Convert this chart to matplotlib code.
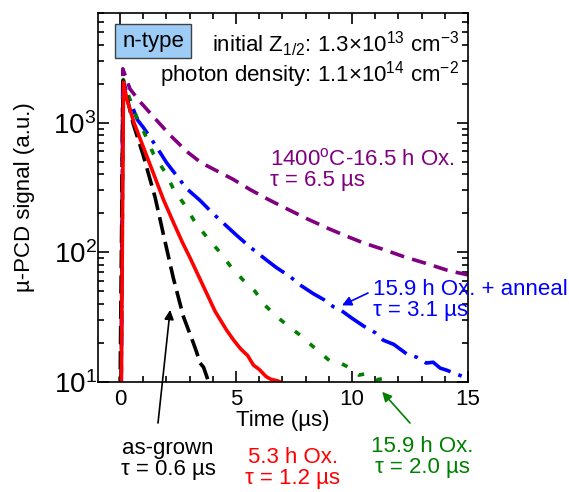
import matplotlib
matplotlib.use("Agg")
import matplotlib.pyplot as plt
from matplotlib.ticker import LogLocator, MultipleLocator, NullFormatter

# ── Style ─────────────────────────────────────────────────
plt.rcParams['font.family'] = ['Liberation Sans', 'DejaVu Sans']
plt.rcParams['mathtext.fontset'] = 'custom'
plt.rcParams['mathtext.rm'] = 'Liberation Sans'
plt.rcParams['mathtext.it'] = 'Liberation Sans'
plt.rcParams['mathtext.default'] = 'regular'

# ── Data ──────────────────────────────────────────────────
t_asgrown = [0.0, 0.13, 0.57, 1.0, 1.51, 1.86, 2.3, 2.73, 3.16, 3.3, 3.45, 3.6, 3.74, 3.9]
s_asgrown = [8, 2100, 975, 560, 266, 140, 63, 32, 20, 17, 14, 13, 11, 9]

t_53h = [0.05, 0.15, 0.3, 0.6, 1.0, 1.5, 1.87, 2.3, 2.7, 3.0, 3.45, 4.1, 4.6, 4.9, 5.2,
         5.5, 5.75, 6.0, 6.3, 6.5, 6.8, 7.0, 7.2]
s_53h = [8, 2050, 1500, 1000, 650, 380, 255, 170, 118, 92, 62, 35, 25, 21, 18,
         16, 13.5, 12.5, 11, 10.5, 10.2, 9.8, 9]

t_159h = [0.05, 0.14, 0.43, 0.72, 1.0, 1.44, 1.94, 2.3, 2.8, 3.23, 3.8, 4.31, 4.81, 5.31,
          5.82, 6.25, 6.75, 7.25, 7.76, 8.33, 9.05, 9.5, 9.77, 10.3, 10.6, 11.06, 11.3, 11.6]
s_159h = [8, 2150, 1500, 1100, 870, 573, 415, 309, 230, 171, 127, 100, 76, 61,
          50, 39, 32, 27, 23, 18.7, 14.5, 14, 13.2, 11.3, 11.6, 10.4, 10.6, 9.5]

t_anneal = [0.05, 0.12, 0.3, 0.75, 1.0, 1.5, 2.01, 2.87, 3.45, 4.02, 5.03, 5.6, 6.32, 6.75,
            7.33, 7.76, 8.33, 8.8, 9.2, 9.5, 10.0, 10.5, 11.0, 11.35, 11.8, 12.35, 12.8,
            13.2, 13.5, 13.8, 14.1, 14.5, 14.8, 15.0]
s_anneal = [8, 2100, 1700, 1050, 920, 680, 490, 310, 251, 198, 135, 110, 87, 76,
            65, 56, 48, 43, 38, 36, 31, 27, 24, 21, 19.5, 16.5, 15.5,
            14.0, 14.2, 12.8, 12.3, 11.5, 11, 10.5]

t_1400 = [0.05, 0.12, 0.43, 0.86, 1.5, 2.16, 2.87, 3.5, 4.45, 4.88, 5.6, 6.4, 7.0, 8.1,
          9.0, 9.77, 10.5, 11.3, 12.2, 13.2, 14.08, 14.5, 15.0]
s_1400 = [8, 2600, 1815, 1450, 1080, 800, 600, 490, 400, 365, 305, 255, 225, 180,
          152, 133, 118, 106, 93, 82, 73, 70, 67]

# ── Figure ────────────────────────────────────────────────
fig = plt.figure(figsize=(5.69, 4.92), dpi=100)
ax = fig.add_axes([98 / 569, 1 - 382 / 492, 370 / 569, 369 / 492])

lw = 2.6
ax.plot(t_1400, s_1400, color='#800080', lw=lw, linestyle=(0, (4, 2.3)))
ax.plot(t_anneal, s_anneal, color='#0000ff', lw=lw, linestyle=(0, (8, 2.3, 1, 2.3)))
ax.plot(t_159h, s_159h, color='#008000', lw=lw, linestyle=(0, (1.7, 3.7)))
ax.plot(t_asgrown, s_asgrown, color='black', lw=lw, linestyle=(0, (5, 2)))
ax.plot(t_53h, s_53h, color='#ff0000', lw=lw)

ax.set_yscale('log')
ax.set_xlim(-0.95, 15)
ax.set_ylim(10, 7000)
ax.xaxis.set_major_locator(MultipleLocator(5))
ax.xaxis.set_minor_locator(MultipleLocator(1))
ax.yaxis.set_major_locator(LogLocator(base=10, numticks=10))
ax.yaxis.set_minor_locator(LogLocator(base=10, subs=range(2, 10), numticks=10))
ax.yaxis.set_minor_formatter(NullFormatter())
ax.tick_params(which='both', direction='in', top=True, right=True)
ax.tick_params(axis='x', labelsize=16, pad=5)
ax.tick_params(axis='y', labelsize=20, pad=1)
ax.tick_params(which='major', length=8, width=1.2)
ax.tick_params(which='minor', length=4.5, width=1.2)
for sp in ax.spines.values():
    sp.set_linewidth(1.2)

ax.set_xlabel('Time (µs)', fontsize=16, labelpad=0)
ax.set_ylabel('µ-PCD signal (a.u.)', fontsize=16)
ax.yaxis.set_label_coords((35 - 98) / 370, 0.5)


def px(x, y):
    return (x / 569, 1 - y / 492)


# ── Header texts ──────────────────────────────────────────
fig.text(*px(153, 41), 'n-type', fontsize=16, ha='center', va='center',
         bbox=dict(boxstyle='square,pad=0.3', fc='#9dcdf7', ec='#404040', lw=1))
fig.text(*px(459, 52), 'initial Z$_{1/2}$: 1.3×10$^{13}$ cm$^{-3}$',
         fontsize=16, ha='right', va='baseline')
fig.text(*px(459, 82), 'photon density: 1.1×10$^{14}$ cm$^{-2}$',
         fontsize=16, ha='right', va='baseline')

# ── Curve labels (y = baseline of the last line) ──────────
fig.text(*px(270, 186), '1400$^{o}$C-16.5 h Ox.\nτ = 6.5 µs', fontsize=16,
         color='#800080', ha='left', va='baseline', linespacing=1.0)
fig.text(*px(373, 316), '15.9 h Ox. + anneal\nτ = 3.1 µs', fontsize=16,
         color='#0000ff', ha='left', va='baseline', linespacing=1.0)
fig.text(*px(422, 473), '15.9 h Ox.\nτ = 2.0 µs', fontsize=16,
         color='#008000', ha='center', va='baseline', linespacing=1.0)
fig.text(*px(293, 484), '5.3 h Ox.\nτ = 1.2 µs', fontsize=16,
         color='#ff0000', ha='center', va='baseline', linespacing=1.0)
fig.text(*px(168, 475), 'as-grown\nτ = 0.6 µs', fontsize=16,
         color='black', ha='center', va='baseline', linespacing=1.0)

arrow = dict(arrowstyle='-|>', lw=1.2, mutation_scale=14, shrinkA=0, shrinkB=0)
ax.annotate('', xy=(2.16, 36), xytext=px(158, 423), textcoords='figure fraction',
            arrowprops=dict(arrow, color='black'), annotation_clip=False)
ax.annotate('', xy=(9.57, 39), xytext=px(368, 293), textcoords='figure fraction',
            arrowprops=dict(arrow, color='#0000ff'), annotation_clip=False)
ax.annotate('', xy=(11.3, 8.4), xytext=px(410, 423), textcoords='figure fraction',
            arrowprops=dict(arrow, color='#008000'), annotation_clip=False)

fig.savefig('out.png', dpi=100)
